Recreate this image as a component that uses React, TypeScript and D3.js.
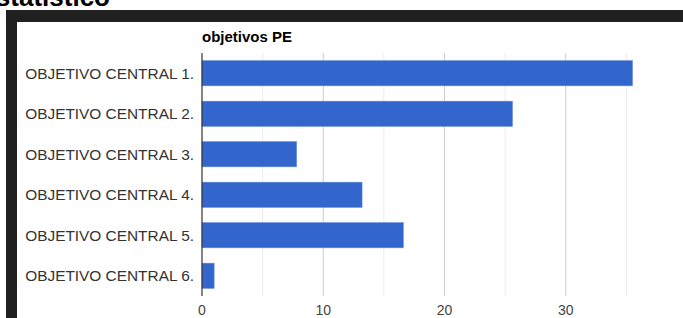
import React, { useEffect, useRef } from "react";
import * as d3 from "d3";

const categories = [
  "OBJETIVO CENTRAL 1.",
  "OBJETIVO CENTRAL 2.",
  "OBJETIVO CENTRAL 3.",
  "OBJETIVO CENTRAL 4.",
  "OBJETIVO CENTRAL 5.",
  "OBJETIVO CENTRAL 6.",
];
const values = [35.5, 25.6, 7.8, 13.2, 16.6, 1.0];
const majorTicks = [0, 10, 20, 30];
const minorTicks = [5, 15, 25, 35];
const chartTitle = "objetivos PE";
const pageTitle = "Estatístico";

const App = () => {
  const ref = useRef<SVGSVGElement>(null);

  useEffect(() => {
    const svg = d3.select(ref.current);
    svg.selectAll("*").remove();

    const width = 683, height = 318;
    const left = 202, top = 53, bottom = 296;

    // page heading, mostly scrolled off the top
    svg.append("text")
      .attr("x", 110).attr("y", 6)
      .attr("text-anchor", "end")
      .attr("font-family", "Liberation Sans, Arial, sans-serif")
      .attr("font-weight", "bold")
      .attr("font-size", 26)
      .attr("fill", "#000")
      .text(pageTitle);

    // dark frame
    svg.append("rect").attr("x", 6).attr("y", 10).attr("width", width).attr("height", 12).attr("fill", "#202020");
    svg.append("rect").attr("x", 6).attr("y", 10).attr("width", 11).attr("height", height).attr("fill", "#202020");

    const x = d3.scaleLinear().domain([0, 40]).range([left, left + 485]);
    const y = d3.scaleBand<string>().domain(categories).range([top, bottom]).paddingInner(0.38).paddingOuter(0.19);

    const g = svg.append("g").attr("font-family", "Liberation Sans, Arial, sans-serif");

    g.selectAll(".minor").data(minorTicks).enter().append("line")
      .attr("x1", d => x(d)).attr("x2", d => x(d))
      .attr("y1", top).attr("y2", bottom)
      .attr("stroke", "#ebebeb").attr("stroke-width", 1);

    g.selectAll(".major").data(majorTicks.slice(1)).enter().append("line")
      .attr("x1", d => x(d)).attr("x2", d => x(d))
      .attr("y1", top).attr("y2", bottom)
      .attr("stroke", "#cccccc").attr("stroke-width", 1);

    g.selectAll(".bar").data(values).enter().append("rect")
      .attr("x", x(0))
      .attr("y", (d, i) => y(categories[i])!)
      .attr("width", d => x(d) - x(0))
      .attr("height", y.bandwidth())
      .attr("fill", "#3366cc")
      .attr("stroke", "#5c85d6").attr("stroke-width", 0.6);

    g.append("line")
      .attr("x1", x(0)).attr("x2", x(0))
      .attr("y1", top).attr("y2", bottom)
      .attr("stroke", "#333").attr("stroke-width", 1.2);

    g.selectAll(".cat").data(categories).enter().append("text")
      .attr("x", 194)
      .attr("y", d => y(d)! + y.bandwidth() / 2)
      .attr("dy", "0.36em")
      .attr("text-anchor", "end")
      .attr("font-size", 15.4)
      .attr("fill", "#333")
      .text(d => d);

    g.selectAll(".tick").data(majorTicks).enter().append("text")
      .attr("x", d => x(d))
      .attr("y", 315)
      .attr("text-anchor", "middle")
      .attr("font-size", 14)
      .attr("fill", "#444")
      .text(d => d);

    g.append("text")
      .attr("x", left).attr("y", 42)
      .attr("font-size", 15)
      .attr("font-weight", "bold")
      .attr("fill", "#000")
      .text(chartTitle);
  }, []);

  return (
    <div style={{ position: "fixed", left: 0, top: 0, width: 683, height: 318, background: "#fff" }}>
      <svg ref={ref} width={683} height={318} style={{ display: "block" }} />
    </div>
  );
};

export default App;
